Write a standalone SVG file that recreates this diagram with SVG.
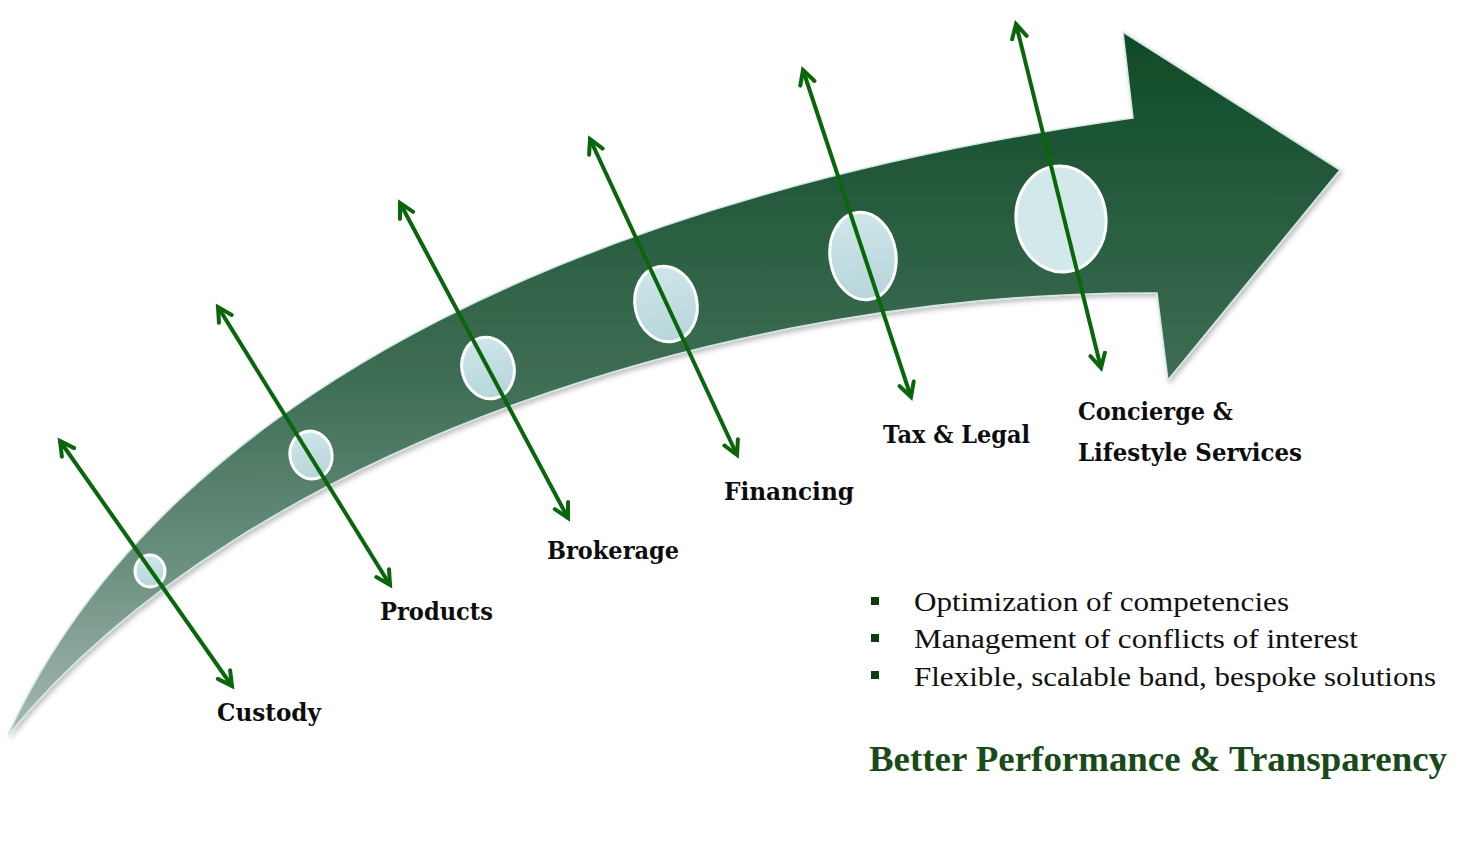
<svg xmlns="http://www.w3.org/2000/svg" width="1483" height="866" viewBox="0 0 1483 866">
  <defs>
    <linearGradient id="arrowFill" gradientUnits="userSpaceOnUse" x1="0" y1="30" x2="0" y2="740">
      <stop offset="0" stop-color="#0e4a26"/>
      <stop offset="0.5" stop-color="#3f6e55"/>
      <stop offset="0.75" stop-color="#6a8f7e"/>
      <stop offset="1" stop-color="#a8bab4"/>
    </linearGradient>
    <linearGradient id="dotFill" x1="0" y1="0" x2="0" y2="1">
      <stop offset="0" stop-color="#cfe6e9"/>
      <stop offset="1" stop-color="#b6d5da"/>
    </linearGradient>
    <filter id="shadow" x="-5%" y="-5%" width="110%" height="110%">
      <feDropShadow dx="2" dy="3" stdDeviation="2.5" flood-color="#000" flood-opacity="0.25"/>
    </filter>
    <marker id="head" markerUnits="userSpaceOnUse" markerWidth="32" markerHeight="32" refX="16" refY="16" orient="auto-start-reverse" viewBox="0 0 32 32">
      <path d="M2,8.5 L16,16 L2,23.5" fill="none" stroke="#0a660a" stroke-width="4" stroke-linecap="round" stroke-linejoin="miter"/>
    </marker>
    <style>
      .lbl { font-family: "DejaVu Serif", "Liberation Serif", serif; font-weight: bold; font-size: 24px; fill: #0d0d0d; }
      .bul { font-family: "Liberation Serif", "Times New Roman", serif; font-size: 28px; fill: #111; }
      .head { font-family: "Liberation Serif", "Times New Roman", serif; font-weight: bold; font-size: 35px; fill: #1a4a1a; }
      .dot { fill: url(#dotFill); stroke: #ffffff; stroke-width: 3; }
      .conn { fill: none; stroke: #0a660a; stroke-width: 4; marker-start: url(#head); marker-end: url(#head); }
      .sq { fill: #0d3d0d; }
    </style>
  </defs>

  <g id="main-arrow" filter="url(#shadow)">
    <path d="M8,735 C170,380 620,190 1133,118 L1123,32 L1340,170 L1168,380 L1157,293 C750,290 250,440 8,735 Z"
          fill="url(#arrowFill)" stroke="#d2e6e6" stroke-width="1.5" stroke-linejoin="miter"/>
  </g>

  <g id="dots">
    <ellipse id="dot-custody" class="dot" cx="150" cy="571" rx="15" ry="16"/>
    <ellipse id="dot-products" class="dot" cx="311" cy="455" rx="21" ry="24" transform="rotate(-12 311 455)"/>
    <ellipse id="dot-brokerage" class="dot" cx="488" cy="368" rx="26" ry="31" transform="rotate(-15 488 368)"/>
    <ellipse id="dot-financing" class="dot" cx="666" cy="304" rx="31" ry="38" transform="rotate(-12 666 304)"/>
    <ellipse id="dot-tax" class="dot" cx="863" cy="256" rx="33" ry="44" transform="rotate(-8 863 256)"/>
    <ellipse id="dot-concierge" class="dot" cx="1061" cy="219" rx="45" ry="53" transform="rotate(-6 1061 219)" style="fill:#d3e8eb"/>
  </g>

  <g id="connectors">
    <line class="conn" x1="60" y1="441" x2="232" y2="686"/>
    <line class="conn" x1="218" y1="307" x2="390" y2="585"/>
    <line class="conn" x1="400" y1="203" x2="568" y2="518"/>
    <line class="conn" x1="590" y1="139" x2="737" y2="455"/>
    <line class="conn" x1="803" y1="70" x2="911" y2="397"/>
    <line class="conn" x1="1016" y1="24" x2="1101" y2="368"/>
  </g>

  <g id="labels">
    <text id="lbl-custody" class="lbl" x="217" y="721" textLength="104" lengthAdjust="spacingAndGlyphs">Custody</text>
    <text id="lbl-products" class="lbl" x="380" y="620" textLength="113" lengthAdjust="spacingAndGlyphs">Products</text>
    <text id="lbl-brokerage" class="lbl" x="547" y="559" textLength="132" lengthAdjust="spacingAndGlyphs">Brokerage</text>
    <text id="lbl-financing" class="lbl" x="724" y="500" textLength="130" lengthAdjust="spacingAndGlyphs">Financing</text>
    <text id="lbl-tax" class="lbl" x="883" y="443" textLength="147" lengthAdjust="spacingAndGlyphs">Tax &amp; Legal</text>
    <text id="lbl-concierge1" class="lbl" x="1078" y="420" textLength="155" lengthAdjust="spacingAndGlyphs">Concierge &amp;</text>
    <text id="lbl-concierge2" class="lbl" x="1078" y="461" textLength="224" lengthAdjust="spacingAndGlyphs">Lifestyle Services</text>
  </g>

  <g id="benefits">
    <rect class="sq" x="871" y="597" width="8" height="8"/>
    <rect class="sq" x="871" y="634" width="8" height="8"/>
    <rect class="sq" x="871" y="671" width="8" height="8"/>
    <text class="bul" x="914" y="611" textLength="375" lengthAdjust="spacingAndGlyphs">Optimization of competencies</text>
    <text class="bul" x="914" y="648" textLength="444" lengthAdjust="spacingAndGlyphs">Management of conflicts of interest</text>
    <text class="bul" x="914" y="686" textLength="522" lengthAdjust="spacingAndGlyphs">Flexible, scalable band, bespoke solutions</text>
  </g>

  <g id="headline">
    <text class="head" x="869" y="771" textLength="578" lengthAdjust="spacingAndGlyphs">Better Performance &amp; Transparency</text>
  </g>
</svg>
